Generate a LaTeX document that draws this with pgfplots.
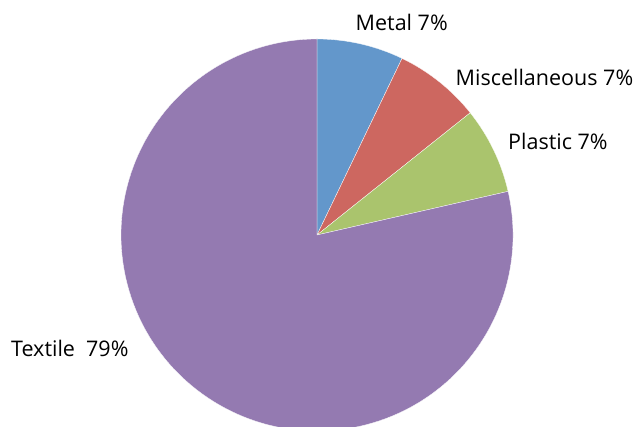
\documentclass[border=0pt]{standalone}
\usepackage{pgfplots}
\pgfplotsset{compat=1.18}
\usepackage{pgfplotstable}
\usepackage{fontspec}
\setmainfont{Open Sans}
\definecolor{cMetal}{RGB}{99,151,203}
\definecolor{cMisc}{RGB}{205,103,96}
\definecolor{cPlastic}{RGB}{170,196,109}
\definecolor{cTextile}{RGB}{148,122,177}
% pie data (counts)
\pgfplotstableread{
label value
Metal 1
Miscellaneous 1
Plastic 1
Textile 11
}\piedata
\pgfplotstablegetelem{0}{value}\of\piedata \let\vA\pgfplotsretval
\pgfplotstablegetelem{1}{value}\of\piedata \let\vB\pgfplotsretval
\pgfplotstablegetelem{2}{value}\of\piedata \let\vC\pgfplotsretval
\pgfplotstablegetelem{3}{value}\of\piedata \let\vD\pgfplotsretval
\pgfmathsetmacro\tot{\vA+\vB+\vC+\vD}
\pgfmathsetmacro\aA{90}
\pgfmathsetmacro\aB{\aA-360*\vA/\tot}
\pgfmathsetmacro\aC{\aB-360*\vB/\tot}
\pgfmathsetmacro\aD{\aC-360*\vC/\tot}
\pgfmathsetmacro\aE{\aD-360*\vD/\tot}
\begin{document}
\begin{tikzpicture}
\begin{axis}[
  width=633pt, height=427pt, scale only axis,
  xmin=0, xmax=633, ymin=0, ymax=427,
  hide axis, clip=true,
]
\def\R{196}
\fill[cMetal,draw=white,line width=0.3pt] (axis cs:317,192) -- ++(\aA:\R pt) arc[start angle=\aA, end angle=\aB, radius=\R pt] -- cycle;
\fill[cMisc,draw=white,line width=0.3pt] (axis cs:317,192) -- ++(\aB:\R pt) arc[start angle=\aB, end angle=\aC, radius=\R pt] -- cycle;
\fill[cPlastic,draw=white,line width=0.3pt] (axis cs:317,192) -- ++(\aC:\R pt) arc[start angle=\aC, end angle=\aD, radius=\R pt] -- cycle;
\fill[cTextile,draw=white,line width=0.3pt] (axis cs:317,192) -- ++(\aD:\R pt) arc[start angle=\aD, end angle=\aE, radius=\R pt] -- cycle;
\node[anchor=base west,inner sep=0pt,font=\fontsize{21.5}{24}\selectfont] at (axis cs:355.5,396.5) {Metal 7\%};
\node[anchor=base west,inner sep=0pt,font=\fontsize{21.5}{24}\selectfont] at (axis cs:455.5,341) {Miscellaneous 7\%};
\node[anchor=base west,inner sep=0pt,font=\fontsize{21.5}{24}\selectfont] at (axis cs:508,277) {Plastic 7\%};
\node[anchor=base west,inner sep=0pt,font=\fontsize{21.5}{24}\selectfont] at (axis cs:11,70) {Textile\ \ 79\%};
\end{axis}
\pgfresetboundingbox
\path[use as bounding box] (current axis.south west) rectangle (current axis.north east);
\end{tikzpicture}
\end{document}
